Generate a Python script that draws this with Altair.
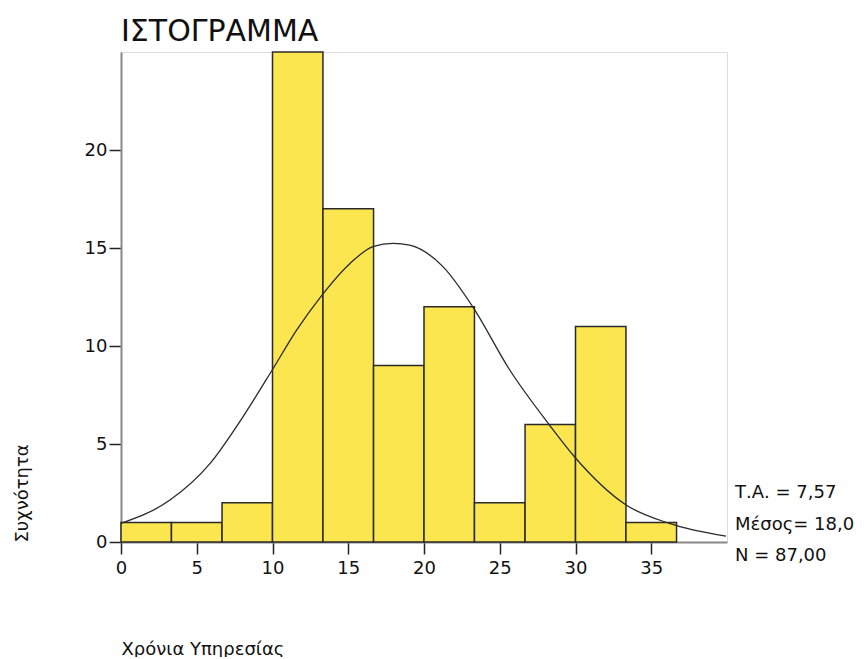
import altair as alt
import pandas as pd

# Histogram bins (years of service) and frequencies
bin_start = [0.0, 3.33, 6.67, 10.0, 13.33, 16.67, 20.0, 23.33, 26.67, 30.0, 33.33]
bin_end = [3.33, 6.67, 10.0, 13.33, 16.67, 20.0, 23.33, 26.67, 30.0, 33.33, 36.67]
counts = [1, 1, 2, 25, 17, 9, 12, 2, 6, 11, 1]

# Normal curve points
curve_x = [0.0, 3.23, 5.87, 8.06, 10.0, 11.58, 13.27, 15.1, 16.63, 17.95,
           19.05, 21.25, 23.22, 25.64, 28.28, 29.93, 33.34, 36.19, 39.93]
curve_y = [0.95, 2.14, 4.0, 6.4, 8.8, 10.8, 12.6, 14.2, 15.07, 15.24,
           15.15, 14.05, 12.0, 8.8, 5.97, 4.35, 1.89, 0.95, 0.3]

x_ticks = [0, 5, 10, 15, 20, 25, 30, 35]
y_ticks = [0, 5, 10, 15, 20]
stats = ["Τ.Α. = 7,57", "Μέσος= 18,0", "N = 87,00"]

title_text = "ΙΣΤΟΓΡΑΜΜΑ"
x_title = "Χρόνια Υπηρεσίας"
y_title = "Συχνότητα"

FONT = "DejaVu Sans"

bars_df = pd.DataFrame({"start": bin_start, "end": bin_end, "count": counts})
curve_df = pd.DataFrame({"x": curve_x, "y": curve_y})
one_row = pd.DataFrame({"k": [0]})

x_scale = alt.Scale(domain=[0, 40], nice=False, zero=False)
y_scale = alt.Scale(domain=[0, 25], nice=False)

x_axis = alt.Axis(
    values=x_ticks, title=x_title, grid=False, labelFlush=False,
    tickSize=12, tickColor="#222", tickWidth=1.5,
    domainColor="#888", domainWidth=2,
    labelFontSize=18, labelPadding=5, labelColor="#111", labelFont=FONT,
    titleFontSize=18, titleFontWeight="normal", titleColor="#111", titleFont=FONT,
    titleX=0, titleY=112, titleAlign="left", titleBaseline="alphabetic",
)
y_axis = alt.Axis(
    values=y_ticks, title=y_title, grid=False, labelFlush=False,
    tickSize=12, tickColor="#222", tickWidth=1.5,
    domainColor="#888", domainWidth=2,
    labelFontSize=18, labelPadding=2, labelColor="#111", labelFont=FONT,
    titleFontSize=18, titleFontWeight="normal", titleColor="#111", titleFont=FONT,
    titleX=-99, titleY=490, titleAngle=-90, titleAlign="left", titleBaseline="middle",
)

bars = alt.Chart(bars_df).mark_bar(
    fill="#FCE650", stroke="#2a2a2a", strokeWidth=1.5
).encode(
    x=alt.X("start:Q", scale=x_scale, axis=x_axis),
    x2="end:Q",
    y=alt.Y("count:Q", scale=y_scale, axis=y_axis),
    y2=alt.datum(0),
)

curve = alt.Chart(curve_df).mark_line(
    color="#2a2a2a", strokeWidth=1.3, interpolate="monotone"
).encode(
    x=alt.X("x:Q", scale=x_scale),
    y=alt.Y("y:Q", scale=y_scale),
)

stats_text = alt.Chart(one_row).mark_text(
    align="left", baseline="middle", fontSize=18, font=FONT, color="#111",
    lineHeight=31.5,
).encode(
    x=alt.value(614),
    y=alt.value(441),
    text=alt.value(stats),
)

title_mark = alt.Chart(one_row).mark_text(
    align="left", baseline="alphabetic", fontSize=30, font=FONT, color="#111",
).encode(
    x=alt.value(0),
    y=alt.value(-11),
    text=alt.value(title_text),
)

chart = alt.layer(bars, curve, stats_text, title_mark).properties(
    width=606,
    height=490,
    autosize=alt.AutoSizeParams(type="none"),
    padding={"left": 113, "top": 44, "right": 128, "bottom": 115},
).configure_view(
    stroke="#888", strokeWidth=2
).configure(background="white")

chart.save("out.html", embed_options={"renderer": "svg", "actions": False})
